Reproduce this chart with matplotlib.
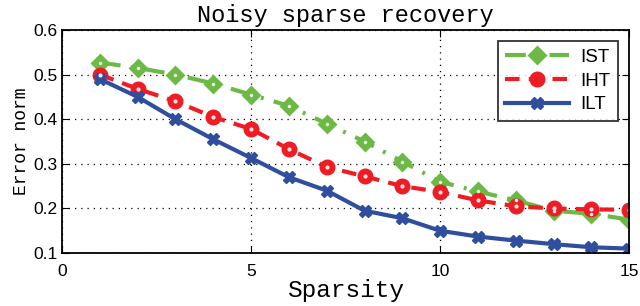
import matplotlib
matplotlib.use("Agg")
import matplotlib.pyplot as plt

sparsity = list(range(1, 16))
ist = [0.527, 0.515, 0.50, 0.48, 0.455, 0.43, 0.39, 0.35, 0.305, 0.26, 0.238, 0.218, 0.195, 0.188, 0.175]
iht = [0.50, 0.468, 0.44, 0.405, 0.378, 0.333, 0.293, 0.272, 0.25, 0.237, 0.218, 0.205, 0.20, 0.198, 0.197]
ilt = [0.49, 0.45, 0.40, 0.355, 0.313, 0.27, 0.24, 0.195, 0.178, 0.15, 0.137, 0.128, 0.12, 0.113, 0.11]

green = "#6cb946"
red = "#ee1d25"
blue = "#2f4f9e"

fig = plt.figure(figsize=(6.4, 3.06), dpi=100)
ax = fig.add_axes([0.097, 0.173, 0.886, 0.729])

ax.plot(sparsity, ist, color=green, lw=3, ls=(0, (5, 2.5, 0.7, 2.5)), marker="D", ms=8,
        mfc=green, mec=green, mew=2, label="IST")
ax.plot(sparsity, iht, color=red, lw=3, ls=(0, (3.5, 2.2)), marker="o", ms=9.5,
        mfc=red, mec=red, mew=2, label="IHT")
ax.plot(sparsity, ilt, color=blue, lw=3, ls="-", marker="X", ms=8,
        mfc=blue, mec=blue, label="ILT")
# small light centres in the open-looking markers
ax.plot(sparsity, ist, ls="none", marker="o", ms=2.5, mfc="#e8f3e0", mec="none")
ax.plot(sparsity, iht, ls="none", marker="o", ms=3, mfc="#fbe0e0", mec="none")

ax.set_xlim(0, 15)
ax.set_ylim(0.1, 0.6)
ax.set_xticks([0, 5, 10, 15])
ax.set_yticks([0.1, 0.2, 0.3, 0.4, 0.5, 0.6])
ax.grid(True, color="black", ls=(0, (1, 4)), lw=0.9)
ax.tick_params(direction="in", top=True, right=True, labelsize=12.5, length=5)
ax.tick_params(axis="x", pad=8)
for lab in ax.get_xticklabels() + ax.get_yticklabels():
    lab.set_family("Liberation Sans")
for s in ax.spines.values():
    s.set_linewidth(1.3)

ax.set_title("Noisy sparse recovery", family="Liberation Mono", fontsize=17, pad=6)
ax.set_xlabel("Sparsity", family="Liberation Mono", fontsize=17.6, labelpad=0)
ax.set_ylabel("Error norm", family="Liberation Mono", fontsize=13, labelpad=2)

leg = ax.legend(loc="upper right", fancybox=False, edgecolor="black",
                prop={"family": "Liberation Sans", "size": 13.5}, handlelength=3.4,
                borderaxespad=0.6, labelspacing=0.35, handletextpad=0.6)
leg.get_frame().set_linewidth(1.3)

fig.savefig("out.png", dpi=100)
